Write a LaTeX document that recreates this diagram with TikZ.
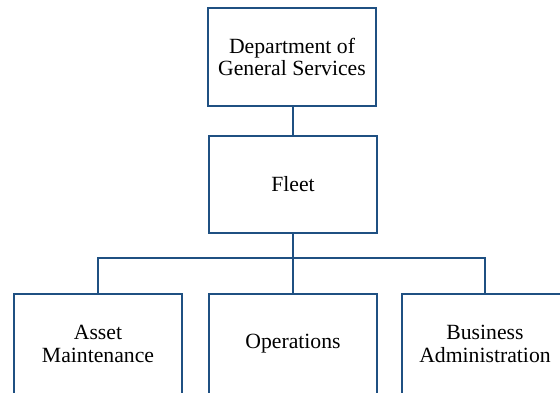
\documentclass[tikz,border=0pt]{standalone}
\usepackage{fontspec}
\setmainfont{Liberation Serif}
\definecolor{boxblue}{RGB}{31,80,130}
\begin{document}
\begin{tikzpicture}[x=1pt,y=-1pt,
  orgbox/.style={draw=boxblue,line width=2pt,fill=white,inner sep=0pt,align=center,
    font=\fontsize{21.7}{22.5}\selectfont},
  link/.style={draw=boxblue,line width=2pt}]
\useasboundingbox (0,0) rectangle (560,392);
\clip (0,0) rectangle (560,392);
\fill[white] (0,0) rectangle (560,392);
\node[orgbox,minimum width=168pt,minimum height=98pt] (dgs) at (292,57) {Department of\\General Services};
\node[orgbox,minimum width=168pt,minimum height=97pt] (fleet) at (293,184.5) {Fleet};
\node[orgbox,minimum width=168pt,minimum height=100pt] (asset) at (98,344) {Asset\\Maintenance};
\node[orgbox,minimum width=168pt,minimum height=100pt] (ops) at (293,344) {Operations};
\node[orgbox,minimum width=166pt,minimum height=100pt] (biz) at (485,344) {Business\\Administration};
\coordinate (hub) at (293,258);
\draw[link] (fleet.north) -- (fleet.north |- dgs.south);
\draw[link] (fleet.south) -- (ops.north);
\draw[link] (asset.north) |- (hub) -| (biz.north);
\end{tikzpicture}
\end{document}
